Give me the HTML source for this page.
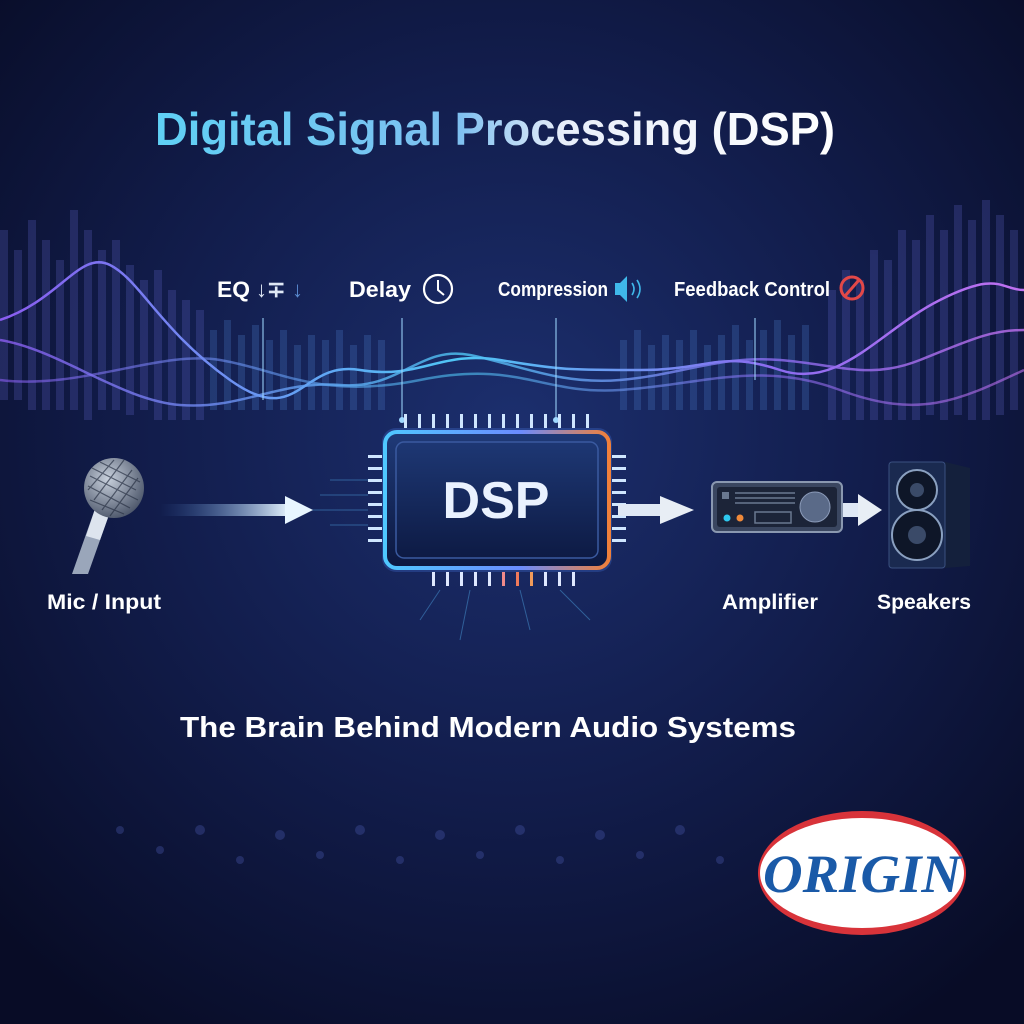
<!DOCTYPE html>
<html><head><meta charset="utf-8"><style>
html,body{margin:0;padding:0;background:#0a0f2e;}
svg{display:block}
</style></head><body>
<svg width="1024" height="1024" viewBox="0 0 1024 1024" xmlns="http://www.w3.org/2000/svg" font-family="Liberation Sans, sans-serif">
<defs>
<radialGradient id="bg" cx="0.5" cy="0.42" r="0.7">
<stop offset="0" stop-color="#1c2f6e"/><stop offset="0.5" stop-color="#121d4c"/><stop offset="1" stop-color="#080c26"/>
</radialGradient>
<linearGradient id="tt" x1="0" x2="1"><stop offset="0" stop-color="#5fd0f5"/><stop offset="0.45" stop-color="#7fc0f0"/><stop offset="0.6" stop-color="#e8eefa"/><stop offset="1" stop-color="#ffffff"/></linearGradient>
<linearGradient id="wl" x1="0" x2="1"><stop offset="0" stop-color="#8a5cf0"/><stop offset="0.45" stop-color="#4fc6f5"/><stop offset="0.75" stop-color="#8a6cf0"/><stop offset="1" stop-color="#c070f0"/></linearGradient>
<linearGradient id="arr" x1="0" x2="1"><stop offset="0" stop-color="#3a6fb8" stop-opacity="0"/><stop offset="1" stop-color="#e8f6ff"/></linearGradient>
<linearGradient id="chip" x1="0" y1="0" x2="0" y2="1"><stop offset="0" stop-color="#1f3a78"/><stop offset="1" stop-color="#0c1840"/></linearGradient>
<linearGradient id="chipb" x1="0" x2="1"><stop offset="0" stop-color="#4fc8ff"/><stop offset="0.6" stop-color="#6a8cff"/><stop offset="1" stop-color="#f0803a"/></linearGradient>
<linearGradient id="line" x1="0" x2="1"><stop offset="0" stop-color="#5aa0e0" stop-opacity="0"/><stop offset="0.5" stop-color="#8ab8f0"/><stop offset="1" stop-color="#5aa0e0" stop-opacity="0"/></linearGradient>
<radialGradient id="mic" cx="0.4" cy="0.35" r="0.7"><stop offset="0" stop-color="#c8d0dc"/><stop offset="1" stop-color="#4a5468"/></radialGradient>
</defs>
<rect width="1024" height="1024" fill="url(#bg)"/>
<line x1="150" y1="80" x2="880" y2="80" stroke="url(#line)" stroke-width="1.5"/>
<line x1="120" y1="164" x2="900" y2="164" stroke="url(#line)" stroke-width="1.5"/>
<text x="155" y="145" textLength="680" lengthAdjust="spacingAndGlyphs" font-size="46" font-weight="bold" fill="url(#tt)">Digital Signal Processing (DSP)</text>
<g opacity="0.28">
<g fill="#5a5fc0">
<rect x="0" y="230" width="8" height="170"/><rect x="14" y="250" width="8" height="150"/><rect x="28" y="220" width="8" height="190"/><rect x="42" y="240" width="8" height="170"/><rect x="56" y="260" width="8" height="150"/><rect x="70" y="210" width="8" height="200"/><rect x="84" y="230" width="8" height="190"/><rect x="98" y="250" width="8" height="160"/><rect x="112" y="240" width="8" height="170"/><rect x="126" y="265" width="8" height="150"/><rect x="140" y="280" width="8" height="130"/><rect x="154" y="270" width="8" height="150"/><rect x="168" y="290" width="8" height="130"/><rect x="182" y="300" width="8" height="120"/><rect x="196" y="310" width="8" height="110"/>
<rect x="828" y="290" width="8" height="130"/><rect x="842" y="270" width="8" height="150"/><rect x="856" y="280" width="8" height="140"/><rect x="870" y="250" width="8" height="170"/><rect x="884" y="260" width="8" height="160"/><rect x="898" y="230" width="8" height="190"/><rect x="912" y="240" width="8" height="180"/><rect x="926" y="215" width="8" height="200"/><rect x="940" y="230" width="8" height="190"/><rect x="954" y="205" width="8" height="210"/><rect x="968" y="220" width="8" height="200"/><rect x="982" y="200" width="8" height="220"/><rect x="996" y="215" width="8" height="200"/><rect x="1010" y="230" width="8" height="180"/>
</g>
<g fill="#4a7ac8">
<rect x="210" y="330" width="7" height="80"/><rect x="224" y="320" width="7" height="90"/><rect x="238" y="335" width="7" height="75"/><rect x="252" y="325" width="7" height="85"/><rect x="266" y="340" width="7" height="70"/><rect x="280" y="330" width="7" height="80"/><rect x="294" y="345" width="7" height="65"/><rect x="308" y="335" width="7" height="75"/><rect x="322" y="340" width="7" height="70"/><rect x="336" y="330" width="7" height="80"/><rect x="350" y="345" width="7" height="65"/><rect x="364" y="335" width="7" height="75"/><rect x="378" y="340" width="7" height="70"/><rect x="620" y="340" width="7" height="70"/><rect x="634" y="330" width="7" height="80"/><rect x="648" y="345" width="7" height="65"/><rect x="662" y="335" width="7" height="75"/><rect x="676" y="340" width="7" height="70"/><rect x="690" y="330" width="7" height="80"/><rect x="704" y="345" width="7" height="65"/><rect x="718" y="335" width="7" height="75"/><rect x="732" y="325" width="7" height="85"/><rect x="746" y="340" width="7" height="70"/><rect x="760" y="330" width="7" height="80"/><rect x="774" y="320" width="7" height="90"/><rect x="788" y="335" width="7" height="75"/><rect x="802" y="325" width="7" height="85"/>
</g>
</g>
<g fill="none" stroke-width="2.5">
<path d="M0 320 C60 300,80 250,110 265 S160 330,230 380 S300 360,360 370 S440 350,500 360 S570 370,640 370 S720 350,780 370 S880 330,940 300 S1000 290,1024 290" stroke="url(#wl)"/>
<path d="M0 340 C60 350,120 400,180 405 S280 380,340 385 S420 345,470 355 S560 385,620 380 S720 355,780 360 S870 380,920 360 S990 330,1024 330" stroke="url(#wl)" opacity="0.8"/>
<path d="M0 380 C80 390,160 350,220 360 S320 400,420 380 S540 395,620 390 S760 360,840 390 S960 400,1024 370" stroke="url(#wl)" opacity="0.6"/>
</g>
<line x1="190" y1="316" x2="860" y2="316" stroke="url(#wl)" stroke-width="1.5" opacity="0.8"/>
<g stroke="#9fd8ff" stroke-width="1.3" opacity="0.8">
<line x1="263" y1="318" x2="263" y2="400"/><line x1="402" y1="318" x2="402" y2="420"/><line x1="556" y1="318" x2="556" y2="420"/><line x1="755" y1="318" x2="755" y2="380"/>
</g>
<circle cx="402" cy="420" r="3" fill="#9fd8ff"/><circle cx="556" cy="420" r="3" fill="#9fd8ff"/>
<g font-weight="bold" fill="#fff">
<text x="217" y="297" font-size="22" textLength="33" lengthAdjust="spacingAndGlyphs">EQ</text>
<text x="256" y="297" font-size="22" fill="#dfe8f5">↓∓</text><text x="292" y="297" font-size="22" fill="#5a8bd0">↓</text>
<text x="349" y="297" font-size="22" textLength="62" lengthAdjust="spacingAndGlyphs">Delay</text>
<text x="498" y="296" font-size="20" textLength="110" lengthAdjust="spacingAndGlyphs">Compression</text>
<text x="674" y="296" font-size="20" textLength="156" lengthAdjust="spacingAndGlyphs">Feedback Control</text>
</g>
<circle cx="438" cy="289" r="14" fill="none" stroke="#fff" stroke-width="2.2"/><path d="M438 280 V290 L444 295" stroke="#fff" stroke-width="2" fill="none"/>
<path d="M615 283 h5 l7 -7 v26 l-7 -7 h-5z" fill="#3fb8ea"/><path d="M632 283 q4 6 0 12 M637 280 q6 9 0 18" stroke="#3fb8ea" stroke-width="1.6" fill="none"/>
<circle cx="852" cy="288" r="11" fill="none" stroke="#e24848" stroke-width="3"/><line x1="845" y1="296" x2="859" y2="280" stroke="#e24848" stroke-width="3"/>
<g fill="#cfe6ff">
<rect x="368" y="455" width="14" height="3"/><rect x="368" y="467" width="14" height="3"/><rect x="368" y="479" width="14" height="3"/><rect x="368" y="491" width="14" height="3"/><rect x="368" y="503" width="14" height="3"/><rect x="368" y="515" width="14" height="3"/><rect x="368" y="527" width="14" height="3"/><rect x="368" y="539" width="14" height="3"/>
<rect x="612" y="455" width="14" height="3"/><rect x="612" y="467" width="14" height="3"/><rect x="612" y="479" width="14" height="3"/><rect x="612" y="491" width="14" height="3"/><rect x="612" y="503" width="14" height="3"/><rect x="612" y="515" width="14" height="3"/><rect x="612" y="527" width="14" height="3"/><rect x="612" y="539" width="14" height="3"/>
</g>
<g fill="#cfe6ff"><rect x="404" y="414" width="3" height="14"/><rect x="418" y="414" width="3" height="14"/><rect x="432" y="414" width="3" height="14"/><rect x="446" y="414" width="3" height="14"/><rect x="460" y="414" width="3" height="14"/><rect x="474" y="414" width="3" height="14"/><rect x="488" y="414" width="3" height="14"/><rect x="502" y="414" width="3" height="14"/><rect x="516" y="414" width="3" height="14"/><rect x="530" y="414" width="3" height="14"/><rect x="544" y="414" width="3" height="14"/><rect x="558" y="414" width="3" height="14"/><rect x="572" y="414" width="3" height="14"/><rect x="586" y="414" width="3" height="14"/></g>
<g fill="#dfe8ff"><rect x="432" y="572" width="3" height="14"/><rect x="446" y="572" width="3" height="14"/><rect x="460" y="572" width="3" height="14"/><rect x="474" y="572" width="3" height="14"/><rect x="488" y="572" width="3" height="14"/><rect x="502" y="572" width="3" height="14" fill="#f08a8a"/><rect x="516" y="572" width="3" height="14" fill="#f07a5a"/><rect x="530" y="572" width="3" height="14" fill="#f09a5a"/><rect x="544" y="572" width="3" height="14"/><rect x="558" y="572" width="3" height="14"/><rect x="572" y="572" width="3" height="14"/></g>
<rect x="382" y="428" width="230" height="144" rx="14" fill="#4a7ff0" opacity="0.25"/>
<rect x="385" y="432" width="224" height="136" rx="12" fill="url(#chip)" stroke="url(#chipb)" stroke-width="4"/>
<rect x="396" y="442" width="202" height="116" rx="8" fill="none" stroke="#3a5aa0" stroke-width="1.5"/>
<text x="496" y="518" text-anchor="middle" font-size="52" font-weight="bold" fill="#eaf2ff">DSP</text>
<g stroke="#4a9ad8" stroke-width="1" opacity="0.5" fill="none">
<path d="M368 480 H330 M368 495 H320 M368 510 H310 M368 525 H330 M440 590 L420 620 M470 590 L460 640 M520 590 L530 630 M560 590 L590 620"/>
</g>
<rect x="160" y="504" width="130" height="12" fill="url(#arr)"/>
<path d="M285 496 L313 510 L285 524Z" fill="#e8f6ff"/>
<rect x="618" y="504" width="44" height="12" fill="#dfe8f5"/><path d="M660 496 L694 510 L660 524Z" fill="#e8eef5"/>
<rect x="842" y="503" width="20" height="14" fill="#dfe8f5"/><path d="M858 494 L882 510 L858 526Z" fill="#e8eef5"/>
<g>
<path d="M96 506 L110 512 L88 574 L72 574Z" fill="#9aa6ba"/>
<path d="M96 506 L110 512 L100 540 L86 536Z" fill="#dde4ee"/>
<path d="M92 508 L114 518 L116 510 L96 500Z" fill="#7a869a"/>
<circle cx="114" cy="488" r="30" fill="url(#mic)"/>
<g stroke="#2a3244" stroke-width="1.2" opacity="0.7" fill="none"><path d="M90 476 L138 500 M92 468 L136 490 M88 486 L130 508 M100 462 L140 482 M90 500 L124 514 M102 510 L132 470 M94 500 L124 460 M110 516 L138 478 M88 490 L114 460"/></g>
</g>
<text x="47" y="609" font-size="21" font-weight="bold" fill="#fff" textLength="114" lengthAdjust="spacingAndGlyphs">Mic / Input</text>
<rect x="712" y="482" width="130" height="50" rx="5" fill="#3a4660" stroke="#8a98b0" stroke-width="2"/>
<rect x="717" y="487" width="120" height="40" rx="3" fill="#1c2438"/>
<g stroke="#6a7890" stroke-width="1.5"><line x1="735" y1="493" x2="795" y2="493"/><line x1="735" y1="498" x2="795" y2="498"/><line x1="735" y1="503" x2="795" y2="503"/></g>
<rect x="722" y="492" width="7" height="7" fill="#6a7890"/>
<circle cx="727" cy="518" r="3.5" fill="#2ec8f0"/><circle cx="740" cy="518" r="3.5" fill="#f08a3a"/>
<rect x="755" y="512" width="36" height="11" fill="none" stroke="#6a7890" stroke-width="1.5"/>
<circle cx="815" cy="507" r="15" fill="#5a6a88" stroke="#8a9ab8"/>
<text x="770" y="609" text-anchor="middle" font-size="21" font-weight="bold" fill="#fff" textLength="96" lengthAdjust="spacingAndGlyphs">Amplifier</text>
<path d="M945 462 L970 468 L970 566 L945 568Z" fill="#14203c"/>
<rect x="889" y="462" width="56" height="106" rx="3" fill="#1a2a50" stroke="#3a5080"/>
<circle cx="917" cy="490" r="20" fill="#0e1628" stroke="#8aa0c0" stroke-width="2"/><circle cx="917" cy="490" r="7" fill="#3a4a68"/>
<circle cx="917" cy="535" r="25" fill="#0e1628" stroke="#8aa0c0" stroke-width="2"/><circle cx="917" cy="535" r="9" fill="#3a4a68"/>
<text x="924" y="609" text-anchor="middle" font-size="21" font-weight="bold" fill="#fff" textLength="94" lengthAdjust="spacingAndGlyphs">Speakers</text>
<line x1="40" y1="692" x2="980" y2="692" stroke="url(#line)" stroke-width="1.5"/>
<line x1="40" y1="757" x2="980" y2="757" stroke="url(#line)" stroke-width="1.5"/>
<text x="180" y="737" font-size="29" font-weight="bold" fill="#fff" textLength="616" lengthAdjust="spacingAndGlyphs">The Brain Behind Modern Audio Systems</text>
<g fill="#4a5ab0" opacity="0.35">
<circle cx="120" cy="830" r="4"/><circle cx="160" cy="850" r="4"/><circle cx="200" cy="830" r="5"/><circle cx="240" cy="860" r="4"/><circle cx="280" cy="835" r="5"/><circle cx="320" cy="855" r="4"/><circle cx="360" cy="830" r="5"/><circle cx="400" cy="860" r="4"/><circle cx="440" cy="835" r="5"/><circle cx="480" cy="855" r="4"/><circle cx="520" cy="830" r="5"/><circle cx="560" cy="860" r="4"/><circle cx="600" cy="835" r="5"/><circle cx="640" cy="855" r="4"/><circle cx="680" cy="830" r="5"/><circle cx="720" cy="860" r="4"/>
</g>
<ellipse cx="862" cy="873" rx="104" ry="62" fill="#d8333a"/>
<ellipse cx="862" cy="873" rx="102" ry="55" fill="#fff"/>
<text x="862" y="892" text-anchor="middle" style="font-family:'Liberation Serif',serif;font-style:italic;font-weight:bold" font-size="54" fill="#1a5aa8" textLength="198" lengthAdjust="spacingAndGlyphs">ORIGIN</text>
</svg>
</body></html>
